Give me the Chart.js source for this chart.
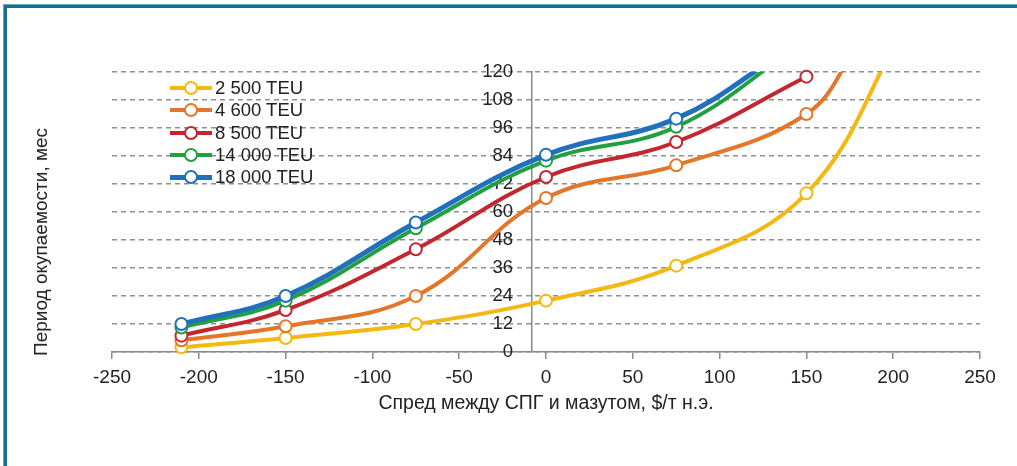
<!DOCTYPE html>
<html>
<head>
<meta charset="utf-8">
<script src="https://cdn.jsdelivr.net/npm/chart.js@4.4.1/dist/chart.umd.min.js"></script>
<style>
    body {
        margin: 0;
        width: 1017px;
        height: 466px;
        overflow: hidden;
        position: relative;
        background: #fff;
        font-family: "Liberation Sans", Arial, sans-serif;
        color: #222;
    }
    #frame {
        position: absolute;
        left: 4px;
        top: 5px;
        right: -20px;
        bottom: -20px;
        border-left: 3px solid #1c6d92;
        border-top: 3px solid #1c6d92;
        box-shadow: -1px -1px 0 #62abc8;
    }
    #chart {
        position: absolute;
        left: 0;
        top: 0;
    }
    #yTitle {
        position: absolute;
        left: 41px;
        top: 242px;
        transform: translate(-50%, -50%) rotate(-90deg);
        white-space: nowrap;
        font-size: 19px;
    }
    #legend {
        position: absolute;
        left: 170px;
        top: 77px;
    }
    .item {
        height: 22.3px;
        display: flex;
        align-items: center;
        font-size: 18.5px;
    }
    .swatch {
        position: relative;
        width: 42px;
        margin-right: 3px;
    }
    .dot {
        position: absolute;
        left: 14px;
        top: 50%;
        width: 10px;
        height: 10px;
        margin-top: -7px;
        border-radius: 50%;
        background: #fff;
        border: 2px solid;
    }
</style>
</head>
<body>
<div id="frame"></div>
<canvas id="chart" width="1017" height="466"></canvas>
<div id="yTitle">Период окупаемости, мес</div>
<div id="legend"></div>
<script>
// spread between LNG and fuel oil, $/t
const spreadX = [-210, -150, -75, 0, 75, 150];

// payback period, months
const teu2500 = [2, 6, 12, 22, 37, 68];
const teu4600 = [5, 11, 24, 66, 80, 102];
const teu8500 = [7, 18, 44, 75, 90, 118];
const teu14000 = [10.5, 22, 53, 82, 96.5];
const teu18000 = [12, 24, 55.5, 84.5, 100];

// where the curves leave the top of the plot (no marker drawn)
const tail2500 = [[205, 137]];
const tail4600 = [[180, 132]];
const tail8500 = [];
const tail14000 = [[145, 131]];
const tail18000 = [[138, 129]];

const seriesLabels = ['2 500 TEU', '4 600 TEU', '8 500 TEU', '14 000 TEU', '18 000 TEU'];
const seriesColors = ['#f4b813', '#e4762a', '#c2262e', '#22a040', '#2170bb'];

const yTicks = [0, 12, 24, 36, 48, 60, 72, 84, 96, 108, 120];
const xTicks = [-250, -200, -150, -100, -50, 0, 50, 100, 150, 200, 250];

// the vertical axis crosses a little left of zero, labels sit further left
const yAxisAt = -8;
const yLabelsAt = -19;

const font = '"Liberation Sans", Arial, sans-serif';

function makeDataset(index, values, tail) {
    let points = values.map((v, i) => ({x: spreadX[i], y: v}));
    let radius = points.map(() => 6);
    tail.forEach(p => {
        points.push({x: p[0], y: p[1]});
        radius.push(0);
    });
    return {
        label: seriesLabels[index],
        data: points,
        borderColor: seriesColors[index],
        borderWidth: index === 4 ? 5 : 4,
        pointRadius: radius,
        pointBackgroundColor: '#fff',
        pointBorderColor: seriesColors[index],
        pointBorderWidth: 2,
        tension: 0.4,
        order: 5 - index,
        clip: tail.length ? {left: false, right: false, bottom: false, top: 0} : false
    };
}

let datasets = [
    makeDataset(0, teu2500, tail2500),
    makeDataset(1, teu4600, tail4600),
    makeDataset(2, teu8500, tail8500),
    makeDataset(3, teu14000, tail14000),
    makeDataset(4, teu18000, tail18000)
];

let legend = document.getElementById('legend');
datasets.forEach(ds => {
    let item = document.createElement('div');
    item.className = 'item';
    item.innerHTML = '<span class="swatch" style="height:' + ds.borderWidth + 'px;background:' + ds.borderColor +
        '"><span class="dot" style="border-color:' + ds.borderColor + '"></span></span><span>' + ds.label + '</span>';
    legend.appendChild(item);
});

let setYTicks = (scale) => { scale.ticks = yTicks.map(v => ({value: v})); };

new Chart(document.getElementById('chart'), {
    type: 'line',
    data: {datasets: datasets},
    options: {
        responsive: false,
        animation: false,
        events: [],
        layout: {padding: {left: 112, right: 37, top: 72, bottom: 51}},
        plugins: {legend: {display: false}, tooltip: {enabled: false}},
        scales: {
            x: {
                type: 'linear',
                position: 'bottom',
                min: -250,
                max: 250,
                afterBuildTicks: (scale) => { scale.ticks = xTicks.map(v => ({value: v})); },
                afterFit: (scale) => { scale.height = 63; },
                ticks: {
                    color: '#222',
                    padding: 7,
                    maxRotation: 0,
                    autoSkip: false,
                    font: {family: font, size: 19}
                },
                grid: {
                    drawOnChartArea: false,
                    drawTicks: true,
                    tickLength: 7,
                    color: '#8a8a8a',
                    lineWidth: 1.5
                },
                border: {color: '#8a8a8a', width: 1.5},
                title: {
                    display: true,
                    text: 'Спред между СПГ и мазутом, $/т н.э.',
                    color: '#222',
                    padding: {top: 0, bottom: 0},
                    font: {family: font, size: 19.5}
                }
            },
            y: {
                type: 'linear',
                position: {x: yAxisAt},
                min: 0,
                max: 120,
                afterBuildTicks: setYTicks,
                ticks: {display: false},
                grid: {
                    drawTicks: false,
                    color: '#8f8f8f',
                    lineWidth: 1.5
                },
                border: {color: '#8a8a8a', width: 1.5, dash: [5, 4]}
            },
            yLabels: {
                type: 'linear',
                axis: 'y',
                position: {x: yLabelsAt},
                min: 0,
                max: 120,
                afterBuildTicks: setYTicks,
                ticks: {
                    color: '#222',
                    autoSkip: false,
                    font: {family: font, size: 18.5}
                },
                grid: {display: false, drawTicks: false},
                border: {display: false}
            }
        }
    }
});
</script>
</body>
</html>
